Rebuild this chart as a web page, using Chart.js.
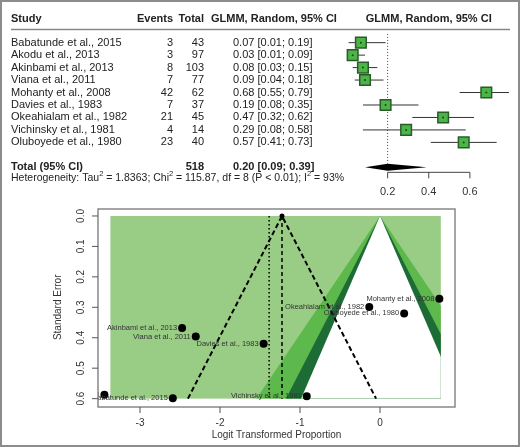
<!DOCTYPE html>
<html>
<head>
  <meta charset="UTF-8">
  <title>Forest and funnel plot</title>
  <script src="https://cdn.jsdelivr.net/npm/chart.js"></script>
  <style>
    html, body {
      margin: 0;
      padding: 0;
      background: white;
    }
    #wrap {
      position: relative;
      width: 520px;
      height: 447px;
      overflow: hidden;
    }
    canvas {
      position: absolute;
      left: 0;
    }
    #forest { top: 0; }
    #funnel { top: 205px; }
    #frame {
      position: absolute;
      left: 0;
      top: 0;
      width: 520px;
      height: 447px;
      box-sizing: border-box;
      border: 2px solid #8c8c8c;
      pointer-events: none;
    }
  </style>
</head>
<body>
<div id="wrap">
  <canvas id="forest" width="520" height="205"></canvas>
  <canvas id="funnel" width="520" height="242"></canvas>
  <div id="frame"></div>
</div>

<script>
  // Study data (forest plot)
  const studies = ['Babatunde et al., 2015', 'Akodu et al., 2013', 'Akinbami et al., 2013',
    'Viana et al., 2011', 'Mohanty et al., 2008', 'Davies et al., 1983',
    'Okeahialam et al., 1982', 'Vichinsky et al., 1981', 'Oluboyede et al., 1980'];
  const events = [3, 3, 8, 7, 42, 7, 21, 4, 23];
  const totals = [43, 97, 103, 77, 62, 37, 45, 14, 40];
  const props = [0.07, 0.03, 0.08, 0.09, 0.68, 0.19, 0.47, 0.29, 0.57];
  const ciLow = [0.01, 0.01, 0.03, 0.04, 0.55, 0.08, 0.32, 0.08, 0.41];
  const ciHigh = [0.19, 0.09, 0.15, 0.18, 0.79, 0.35, 0.62, 0.58, 0.73];
  const pooled = [0.09, 0.20, 0.39];   // low, estimate, high
  const pooledTotal = 518;
  const forestTicks = [0.2, 0.4, 0.6];

  // Funnel plot data
  const logitProp = [-2.59, -3.445, -2.474, -2.303, 0.742, -1.455, -0.134, -0.916, 0.302];
  const stdErr = [0.599, 0.587, 0.368, 0.396, 0.272, 0.420, 0.299, 0.592, 0.320];
  const funnelTicksX = [-3, -2, -1, 0];
  const funnelTicksY = [0, 0.1, 0.2, 0.3, 0.4, 0.5, 0.6];
  const contourZ = [2.576, 1.96, 1.645];
  const contourColors = ['#5db94b', '#1d6c36', '#ffffff'];
  const shadeX = [-3.37, 0.76];
  const shadeSE = [0, 0.6];
  const funnelCenter = -1.225;
  const pooledLogit = -1.386;

  const FONT = "'Liberation Sans', Arial, sans-serif";
  const TXT = '#222';

  // ---------- forest plot ----------
  const rowPx = (chart, v) => chart.scales.y.getPixelForValue(v);
  const colPx = (chart, v) => chart.scales.x.getPixelForValue(v);

  function drawSup(ctx, parts, x, y) {
    parts.forEach(([s, sup]) => {
      ctx.font = sup ? '7.5px ' + FONT : '10.5px ' + FONT;
      ctx.fillText(s, x, sup ? y - 4 : y);
      x += ctx.measureText(s).width;
    });
  }

  const forestPlugin = {
    id: 'forestExtras',
    beforeDatasetsDraw(chart) {
      const ctx = chart.ctx;
      ctx.save();
      // reference line at pooled estimate
      ctx.strokeStyle = '#444';
      ctx.lineWidth = 1;
      ctx.setLineDash([1, 2]);
      ctx.beginPath();
      ctx.moveTo(colPx(chart, pooled[1]), rowPx(chart, -0.7));
      ctx.lineTo(colPx(chart, pooled[1]), rowPx(chart, 9.7));
      ctx.stroke();
      ctx.setLineDash([]);
      // confidence intervals
      ctx.strokeStyle = '#333';
      studies.forEach((s, i) => {
        ctx.beginPath();
        ctx.moveTo(colPx(chart, ciLow[i]), rowPx(chart, i));
        ctx.lineTo(colPx(chart, ciHigh[i]), rowPx(chart, i));
        ctx.stroke();
      });
      // pooled diamond
      const yc = rowPx(chart, 10);
      ctx.fillStyle = '#000';
      ctx.beginPath();
      ctx.moveTo(colPx(chart, pooled[0]), yc);
      ctx.lineTo(colPx(chart, pooled[1]), yc - 3.5);
      ctx.lineTo(colPx(chart, pooled[2]), yc);
      ctx.lineTo(colPx(chart, pooled[1]), yc + 3.5);
      ctx.closePath();
      ctx.fill();
      // x axis
      const ya = rowPx(chart, 10.4);
      ctx.strokeStyle = '#444';
      ctx.beginPath();
      ctx.moveTo(colPx(chart, forestTicks[0]), ya);
      ctx.lineTo(colPx(chart, forestTicks[forestTicks.length - 1]), ya);
      forestTicks.forEach(t => {
        ctx.moveTo(colPx(chart, t), ya);
        ctx.lineTo(colPx(chart, t), ya + 6);
      });
      ctx.stroke();
      ctx.restore();
    },
    afterDraw(chart) {
      const ctx = chart.ctx;
      ctx.save();
      ctx.fillStyle = TXT;
      ctx.textBaseline = 'middle';
      // header
      const yh = rowPx(chart, -1.88);
      ctx.font = 'bold 11px ' + FONT;
      ctx.textAlign = 'left';
      ctx.fillText('Study', 11, yh);
      ctx.fillText('GLMM, Random, 95% CI', 211, yh);
      ctx.textAlign = 'right';
      ctx.fillText('Events', 173, yh);
      ctx.fillText('Total', 204, yh);
      ctx.textAlign = 'center';
      ctx.fillText('GLMM, Random, 95% CI', colPx(chart, 0.4), yh);
      // header rule
      ctx.strokeStyle = '#888';
      ctx.lineWidth = 1.5;
      ctx.beginPath();
      ctx.moveTo(11, rowPx(chart, -1.05));
      ctx.lineTo(510, rowPx(chart, -1.05));
      ctx.stroke();
      // rows
      ctx.font = '11px ' + FONT;
      studies.forEach((s, i) => {
        const y = rowPx(chart, i);
        ctx.textAlign = 'left';
        ctx.fillText(s, 11, y);
        ctx.fillText(props[i].toFixed(2) + ' [' + ciLow[i].toFixed(2) + '; ' + ciHigh[i].toFixed(2) + ']', 233, y);
        ctx.textAlign = 'right';
        ctx.fillText(String(events[i]), 173, y);
        ctx.fillText(String(totals[i]), 204, y);
      });
      // total row
      const yt = rowPx(chart, 10);
      ctx.font = 'bold 11px ' + FONT;
      ctx.textAlign = 'left';
      ctx.fillText('Total (95% CI)', 11, yt);
      ctx.fillText(pooled[1].toFixed(2) + ' [' + pooled[0].toFixed(2) + '; ' + pooled[2].toFixed(2) + ']', 233, yt);
      ctx.textAlign = 'right';
      ctx.fillText(String(pooledTotal), 204, yt);
      // heterogeneity
      ctx.textAlign = 'left';
      drawSup(ctx, [['Heterogeneity: Tau', 0], ['2', 1], [' = 1.8363; Chi', 0], ['2', 1],
        [' = 115.87, df = 8 (P < 0.01); I', 0], ['2', 1], [' = 93%', 0]], 11, rowPx(chart, 10.88));
      // tick labels
      ctx.font = '11px ' + FONT;
      ctx.fillStyle = '#333';
      ctx.textAlign = 'center';
      forestTicks.forEach(t => ctx.fillText(t.toFixed(1), colPx(chart, t), rowPx(chart, 12)));
      ctx.restore();
    }
  };

  new Chart(document.getElementById('forest'), {
    type: 'scatter',
    data: {
      datasets: [{
        data: props.map((p, i) => ({ x: p, y: i })),
        pointRadius: 1,
        backgroundColor: '#1f3f1f',
        borderWidth: 0
      }, {
        data: props.map((p, i) => ({ x: p, y: i })),
        pointStyle: 'rect',
        pointRadius: 7.5,
        backgroundColor: '#4cb548',
        borderColor: '#2b5a2b',
        borderWidth: 1.5
      }]
    },
    options: {
      responsive: false,
      animation: false,
      events: [],
      clip: false,
      layout: { padding: { left: 346.5, right: 7.5, top: 1, bottom: 3 } },
      plugins: { legend: { display: false }, tooltip: { enabled: false } },
      scales: {
        x: { type: 'linear', min: 0, max: 0.8, display: false },
        y: { type: 'linear', min: -2.7, max: 12.3, reverse: true, display: false }
      }
    },
    plugins: [forestPlugin]
  });

  // ---------- funnel plot ----------
  const funnelPlugin = {
    id: 'funnelExtras',
    beforeDatasetsDraw(chart) {
      const ctx = chart.ctx;
      const xs = chart.scales.x, ys = chart.scales.y;
      const x0 = xs.getPixelForValue(shadeX[0]), x1 = xs.getPixelForValue(shadeX[1]);
      const y0 = ys.getPixelForValue(shadeSE[0]), y1 = ys.getPixelForValue(shadeSE[1]);
      ctx.save();
      ctx.fillStyle = '#99cc85';
      ctx.fillRect(x0, y0, x1 - x0, y1 - y0);
      ctx.beginPath();
      ctx.rect(x0, y0, x1 - x0, y1 - y0);
      ctx.clip();
      contourZ.forEach((z, i) => {
        const se = shadeSE[1];
        ctx.fillStyle = contourColors[i];
        ctx.beginPath();
        ctx.moveTo(xs.getPixelForValue(0), ys.getPixelForValue(0));
        ctx.lineTo(xs.getPixelForValue(-z * se), ys.getPixelForValue(se));
        ctx.lineTo(xs.getPixelForValue(z * se), ys.getPixelForValue(se));
        ctx.closePath();
        ctx.fill();
      });
      ctx.restore();
    },
    afterDatasetsDraw(chart) {
      const ctx = chart.ctx;
      const xs = chart.scales.x, ys = chart.scales.y;
      const a = chart.chartArea;
      ctx.save();
      // study labels
      ctx.beginPath();
      ctx.rect(a.left, a.top, a.right - a.left, a.bottom - a.top);
      ctx.clip();
      ctx.font = '7.5px ' + FONT;
      ctx.fillStyle = '#333';
      ctx.textAlign = 'right';
      ctx.textBaseline = 'middle';
      studies.forEach((s, i) => {
        ctx.fillText(s, xs.getPixelForValue(logitProp[i]) - 5, ys.getPixelForValue(stdErr[i]));
      });
      ctx.restore();

      ctx.save();
      // box
      ctx.strokeStyle = '#888';
      ctx.lineWidth = 1.5;
      ctx.strokeRect(a.left, a.top, a.right - a.left, a.bottom - a.top);
      // ticks
      ctx.strokeStyle = '#555';
      ctx.lineWidth = 1;
      ctx.beginPath();
      funnelTicksX.forEach(t => {
        const x = xs.getPixelForValue(t);
        ctx.moveTo(x, a.bottom);
        ctx.lineTo(x, a.bottom + 6);
      });
      funnelTicksY.forEach(t => {
        const y = ys.getPixelForValue(t);
        ctx.moveTo(a.left, y);
        ctx.lineTo(a.left - 6, y);
      });
      ctx.stroke();
      ctx.fillStyle = '#333';
      ctx.font = '10px ' + FONT;
      ctx.textAlign = 'center';
      ctx.textBaseline = 'middle';
      funnelTicksX.forEach(t => ctx.fillText(String(t), xs.getPixelForValue(t), a.bottom + 16));
      ctx.fillText('Logit Transformed Proportion', (a.left + a.right) / 2, a.bottom + 28);
      funnelTicksY.forEach(t => {
        ctx.save();
        ctx.translate(a.left - 17, ys.getPixelForValue(t));
        ctx.rotate(-Math.PI / 2);
        ctx.fillText(t.toFixed(1), 0, 0);
        ctx.restore();
      });
      ctx.save();
      ctx.translate(58, ys.getPixelForValue(0.3));
      ctx.rotate(-Math.PI / 2);
      ctx.fillText('Standard Error', 0, 0);
      ctx.restore();
      ctx.restore();
    }
  };

  const seMax = shadeSE[1];
  new Chart(document.getElementById('funnel'), {
    type: 'scatter',
    data: {
      datasets: [{
        data: logitProp.map((x, i) => ({ x: x, y: stdErr[i] })),
        pointRadius: 4,
        backgroundColor: '#000',
        borderWidth: 0
      }, {
        data: [{ x: funnelCenter - 1.96 * seMax, y: seMax }, { x: funnelCenter, y: 0 },
               { x: funnelCenter + 1.96 * seMax, y: seMax }],
        showLine: true,
        borderColor: '#000',
        borderWidth: 2,
        borderDash: [5, 3],
        pointRadius: [0, 1.5, 0],
        backgroundColor: '#000'
      }, {
        data: [{ x: funnelCenter, y: 0 }, { x: funnelCenter, y: seMax }],
        showLine: true,
        borderColor: '#000',
        borderWidth: 1.5,
        borderDash: [4, 3],
        pointRadius: 0
      }, {
        data: [{ x: pooledLogit, y: 0 }, { x: pooledLogit, y: seMax }],
        showLine: true,
        borderColor: '#000',
        borderWidth: 1.5,
        borderDash: [1.5, 2.5],
        pointRadius: 0
      }]
    },
    options: {
      responsive: false,
      animation: false,
      events: [],
      layout: { padding: { left: 98, right: 65, top: 3, bottom: 40 } },
      plugins: { legend: { display: false }, tooltip: { enabled: false } },
      scales: {
        x: { type: 'linear', min: -3.525, max: 0.9375, display: false },
        y: { type: 'linear', min: -0.0229, max: 0.6275, reverse: true, display: false }
      }
    },
    plugins: [funnelPlugin]
  });
</script>
</body>
</html>
